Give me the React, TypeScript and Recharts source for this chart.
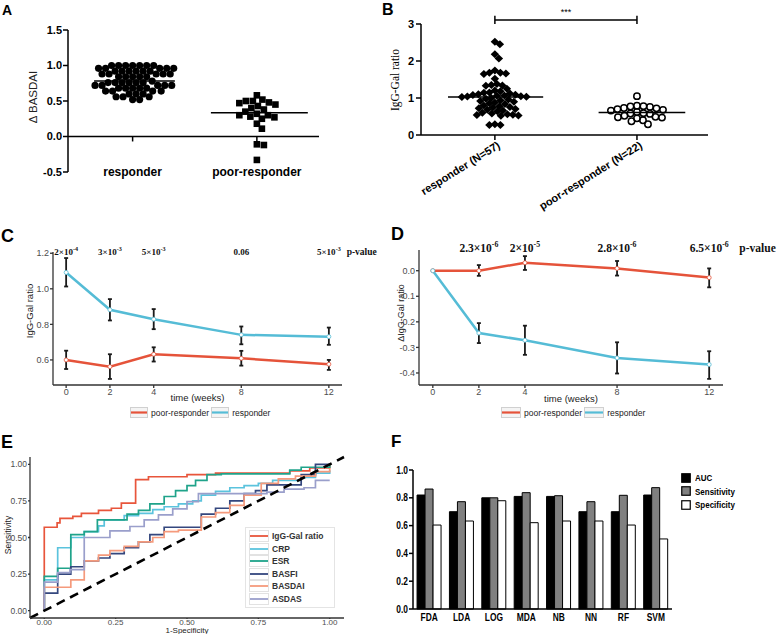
import React from 'react';
import {
  ScatterChart, Scatter, LineChart, Line, BarChart, Bar, XAxis, YAxis,
  ReferenceLine, ReferenceDot, ErrorBar, Legend,
} from 'recharts';

const SANS = '"Liberation Sans", Arial, sans-serif';
const SERIF = '"Liberation Serif", "Times New Roman", serif';

// ---------- A: delta BASDAI ----------
const aGroups = ['responder', 'poor-responder'];
const aResponder = [
  1.0, 1.0, 1.0, 1.0, 1.0, 1.0, 1.0, 0.96, 0.96, 0.96, 0.96, 0.96,
  0.92, 0.92, 0.92, 0.92, 0.92, 0.92, 0.88, 0.88, 0.88, 0.88, 0.88,
  0.84, 0.84, 0.84, 0.84, 0.84, 0.78, 0.76, 0.76, 0.76, 0.76, 0.76, 0.76,
  0.72, 0.72, 0.72, 0.72, 0.72, 0.68, 0.68, 0.68, 0.68, 0.68,
  0.64, 0.64, 0.64, 0.64, 0.6, 0.6, 0.6, 0.56, 0.56, 0.56, 0.52, 0.52,
];
const aPoor = [
  0.58, 0.52, 0.5, 0.5, 0.48, 0.47, 0.45, 0.43, 0.4, 0.38, 0.35,
  0.32, 0.3, 0.3, 0.28, 0.27, 0.25, 0.18, 0.11, -0.11, -0.12, -0.33,
];
const aTicks = [-0.5, 0, 0.5, 1.0, 1.5];

// ---------- B: IgG-Gal ratio by group ----------
const bGroups = ['responder (N=57)', 'poor-responder (N=22)'];
const bResponder = [
  2.52, 2.45, 2.18, 2.07, 1.74, 1.68, 1.68, 1.66, 1.65, 1.52, 1.38, 1.35, 1.34, 1.33,
  1.25, 1.2, 1.18, 1.15, 1.14, 1.12, 1.1, 1.09, 1.08, 1.07, 1.06, 1.05, 1.04, 1.035,
  1.03,
  1.0, 0.98, 0.96, 0.94, 0.92, 0.9, 0.88, 0.86, 0.84, 0.8, 0.78, 0.76, 0.74, 0.72,
  0.7, 0.68, 0.66, 0.64, 0.6, 0.58, 0.56, 0.55, 0.54, 0.53, 0.52, 0.29, 0.27, 0.27,
];
const bPoor = [
  1.05, 0.79, 0.78, 0.77, 0.76, 0.73, 0.72, 0.7, 0.68, 0.66, 0.62,
  0.59, 0.58, 0.57, 0.52, 0.49, 0.48, 0.47, 0.45, 0.4, 0.37, 0.29,
];
const bTicks = [0, 1, 2, 3];

// ---------- C / D: time course ----------
const weeks = [0, 2, 4, 8, 12];
const seriesNames = ['poor-responder', 'responder'];
const RED = '#e5533a';
const BLUE = '#55bcd6';

const cPoor = [0.6, 0.562, 0.632, 0.609, 0.576];
const cPoorLo = [0.549, 0.493, 0.591, 0.568, 0.544];
const cPoorHi = [0.652, 0.632, 0.671, 0.651, 0.6];
const cResp = [1.092, 0.882, 0.829, 0.741, 0.731];
const cRespLo = [1.013, 0.822, 0.773, 0.688, 0.685];
const cRespHi = [1.173, 0.942, 0.886, 0.788, 0.782];
const cPvalues = [['2×10', '-4'], ['3×10', '-3'], ['5×10', '-3'], ['0.06', ''], ['5×10', '-3']];

const dPoor = [0, 0, 0.031, 0.009, -0.027];
const dPoorLo = [null, -0.02, 0.003, -0.019, -0.065];
const dPoorHi = [null, 0.022, 0.057, 0.038, 0.009];
const dResp = [0, -0.244, -0.272, -0.341, -0.367];
const dRespLo = [null, -0.283, -0.329, -0.402, -0.423];
const dRespHi = [null, -0.205, -0.215, -0.28, -0.315];
const dPvalues = [['2.3×10', '-6'], ['2×10', '-5'], ['2.8×10', '-6'], ['6.5×10', '-6']];
const dPweeks = [2, 4, 8, 12];

// ---------- E: ROC ----------
const rocNames = ['IgG-Gal ratio', 'CRP', 'ESR', 'BASFI', 'BASDAI', 'ASDAS'];
const rocColors = ['#e8553b', '#5bc3dd', '#1fa38a', '#34477e', '#f59a7c', '#9a9fcb'];
const rocFpr = [
  [0, 0, 0.045, 0.055, 0.1, 0.13, 0.19, 0.235, 0.27, 0.32, 0.365, 0.5, 0.6, 0.86, 0.93, 1],
  [0, 0, 0.047, 0.093, 0.14, 0.19, 0.21, 0.28, 0.33, 0.38, 0.42, 0.47, 0.52, 0.55, 0.6, 0.65, 0.7, 0.75, 0.8, 0.9, 0.95, 1],
  [0, 0, 0.047, 0.093, 0.14, 0.186, 0.29, 0.33, 0.37, 0.42, 0.46, 0.5, 0.53, 0.57, 0.62, 0.86, 0.9, 1],
  [0, 0, 0.047, 0.093, 0.14, 0.19, 0.23, 0.28, 0.33, 0.37, 0.42, 0.55, 0.6, 0.65, 0.7, 0.74, 0.78, 0.9, 0.95, 1],
  [0, 0, 0.093, 0.14, 0.19, 0.23, 0.28, 0.33, 0.38, 0.42, 0.47, 0.55, 0.6, 0.65, 0.7, 0.76, 0.82, 0.88, 0.95, 1],
  [0, 0, 0.047, 0.09, 0.14, 0.23, 0.3, 0.35, 0.4, 0.45, 0.5, 0.54, 0.78, 0.84, 0.91, 0.95, 1],
];
const rocTpr = [
  [0, 0.57, 0.6, 0.63, 0.645, 0.665, 0.685, 0.7, 0.735, 0.895, 0.915, 0.93, 0.94, 0.955, 0.975, 1],
  [0, 0.21, 0.43, 0.5, 0.54, 0.58, 0.62, 0.65, 0.665, 0.69, 0.71, 0.73, 0.75, 0.79, 0.815, 0.84, 0.855, 0.87, 0.89, 0.91, 0.94, 0.96],
  [0, 0.235, 0.29, 0.52, 0.54, 0.62, 0.66, 0.685, 0.73, 0.78, 0.82, 0.855, 0.89, 0.93, 0.935, 0.96, 0.98, 1],
  [0, 0.12, 0.25, 0.3, 0.34, 0.36, 0.39, 0.43, 0.47, 0.52, 0.57, 0.66, 0.7, 0.75, 0.8, 0.82, 0.86, 0.93, 1, 1],
  [0, 0.16, 0.21, 0.34, 0.38, 0.41, 0.44, 0.47, 0.5, 0.54, 0.55, 0.64, 0.67, 0.72, 0.79, 0.87, 0.9, 0.92, 0.95, 0.97],
  [0, 0.195, 0.26, 0.28, 0.5, 0.545, 0.575, 0.62, 0.655, 0.695, 0.745, 0.8, 0.81, 0.83, 0.84, 0.89, 0.89],
];
const rocTicks = [0, 0.25, 0.5, 0.75, 1];

// ---------- F: classifiers ----------
const fModels = ['FDA', 'LDA', 'LOG', 'MDA', 'NB', 'NN', 'RF', 'SVM'];
const fAUC = [0.82, 0.7, 0.8, 0.81, 0.81, 0.7, 0.7, 0.82];
const fSens = [0.863, 0.772, 0.8, 0.837, 0.815, 0.772, 0.818, 0.873];
const fSpec = [0.604, 0.633, 0.779, 0.621, 0.633, 0.633, 0.604, 0.504];
const fNames = ['AUC', 'Sensitivity', 'Specificity'];
const fColors = ['#000000', '#808080', '#ffffff'];
const fTicks = [0, 0.2, 0.4, 0.6, 0.8, 1.0];

// ---------- helpers ----------
const median = (v: number[]) => {
  const s = [...v].sort((a, b) => a - b);
  const m = s.length >> 1;
  return s.length % 2 ? s[m] : (s[m - 1] + s[m]) / 2;
};

// simple beeswarm: greedy placement in pixel space, returns points in data units
function swarm(values: number[], center: number, pxX: number, pxY: number, minDist: number) {
  const order = values.map((_, i) => i).sort((a, b) => values[b] - values[a]);
  const placed: { x: number; y: number }[] = [];
  const out: { x: number; y: number }[] = new Array(values.length);
  for (const i of order) {
    const py = values[i] * pxY;
    let off = 0;
    for (let k = 0; k < 400; k++) {
      const cand = k === 0 ? 0 : (k % 2 ? 1 : -1) * Math.ceil(k / 2) * 0.5;
      if (placed.every((p) => Math.hypot(p.x - cand, p.y - py) >= minDist)) { off = cand; break; }
    }
    placed.push({ x: off, y: py });
    out[i] = { x: center + off / pxX, y: values[i] };
  }
  return out;
}

const vTitle = (text: string, x: number, y: number, size: number, extra: any = {}) => ({
  content: () => (
    <text x={x} y={y} transform={`rotate(-90 ${x} ${y})`} textAnchor="middle" dominantBaseline="central"
      fontSize={size} fontFamily={SANS} fill="#222" {...extra}>{text}</text>
  ),
});

const pShape = (main: string, exp: string, size: number, dyShift = 0) => (p: any) => (
  <text x={p.cx} y={p.cy + dyShift} textAnchor="middle" dominantBaseline="central" fontFamily={SERIF}
    fontWeight="bold" fontSize={size} fill="#111">
    {main}
    {exp ? <tspan dy={-size * 0.38} fontSize={size * 0.68}>{exp}</tspan> : null}
  </text>
);

const circleShape = (p: any) => <circle cx={p.cx} cy={p.cy} r={3.6} fill="#000" />;
const squareShape = (p: any) => <rect x={p.cx - 3.3} y={p.cy - 3.3} width={6.6} height={6.6} fill="#000" />;
const diamondShape = (p: any) => (
  <polygon points={`${p.cx},${p.cy - 4} ${p.cx + 4.2},${p.cy} ${p.cx},${p.cy + 4} ${p.cx - 4.2},${p.cy}`} fill="#000" />
);
const ringShape = (p: any) => <circle cx={p.cx} cy={p.cy} r={3.2} fill="none" stroke="#000" strokeWidth={1.5} />;

const blackAxis = { stroke: '#000', strokeWidth: 1.5 };
const grayAxis = { stroke: '#333', strokeWidth: 1.3 };
const boldTick = { fill: '#000', fontSize: 11, fontWeight: 'bold', fontFamily: SANS };
const grayTick = { fill: '#4d4d4d', fontSize: 9, fontFamily: SANS };

const aRespPts = swarm(aResponder, 0, 124, 71, 6.6);
const aPoorPts = swarm(aPoor, 1, 124, 71, 6.8);
const bRespPts = swarm(bResponder, 0, 142, 37, 5.5);
const bPoorPts = swarm(bPoor, 1, 142, 37, 6.2);

const toErr = (v: number[], lo: (number | null)[], hi: (number | null)[], i: number) =>
  lo[i] == null || hi[i] == null ? null : [v[i] - (lo[i] as number), (hi[i] as number) - v[i]];

const cData = weeks.map((w, i) => ({
  week: w, poor: cPoor[i], poorErr: toErr(cPoor, cPoorLo, cPoorHi, i),
  resp: cResp[i], respErr: toErr(cResp, cRespLo, cRespHi, i),
}));
const dData = weeks.map((w, i) => ({
  week: w, poor: dPoor[i], poorErr: toErr(dPoor, dPoorLo, dPoorHi, i),
  resp: dResp[i], respErr: toErr(dResp, dRespLo, dRespHi, i),
}));
const rocData = rocNames.map((_, s) => rocFpr[s].map((f, i) => ({ fpr: f, tpr: rocTpr[s][i] })));
const fData = fModels.map((m, i) => ({ model: m, auc: fAUC[i], sens: fSens[i], spec: fSpec[i] }));

const ATick = (p: any) => (
  <text x={p.x} y={p.y} dy={4} textAnchor="middle" fontSize={12} fontWeight="bold" fontFamily={SANS} fill="#000">
    {aGroups[p.payload.value]}
  </text>
);
const BTick = (p: any) => (
  <text transform={`translate(${p.x + 4},${p.y + 2}) rotate(-32)`} textAnchor="end" dy="0.35em"
    fontSize={11} fontWeight="bold" fontFamily={SANS} fill="#000">
    {bGroups[p.payload.value]}
  </text>
);
// condensed bold labels for the bar panel
const FXTick = (p: any) => (
  <text transform={`translate(${p.x},${p.y}) scale(0.84,1)`} dy="0.71em" textAnchor="middle"
    fontSize={10} fontWeight="bold" fontFamily={SANS} fill="#000">{p.payload.value}</text>
);
const FYTick = (p: any) => (
  <text transform={`translate(${p.x},${p.y}) scale(0.84,1)`} dy="0.35em" textAnchor="end"
    fontSize={10} fontWeight="bold" fontFamily={SANS} fill="#000">{Number(p.payload.value).toFixed(1)}</text>
);

const TimeLegend = ({ keyW }: { keyW: number }) => (
  <div style={{ display: 'flex', alignItems: 'center', fontFamily: SANS, fontSize: 8.5, color: '#222', whiteSpace: 'nowrap' }}>
    {seriesNames.map((n, i) => (
      <span key={n} style={{ display: 'flex', alignItems: 'center', marginRight: 2 }}>
        <svg width={keyW} height={11} style={{ display: 'block' }}>
          <rect x={0.5} y={0.5} width={keyW - 1} height={10} fill="#f4f4f4" stroke="#d0d0d0" />
          <line x1={1} x2={keyW - 1} y1={5.5} y2={5.5} stroke={i ? BLUE : RED} strokeWidth={2.2} />
        </svg>
        <span style={{ marginLeft: 3 }}>{n}</span>
      </span>
    ))}
  </div>
);

const RocLegend = () => (
  <div style={{ border: '1px solid #e4e4e4', padding: '2px 3px', fontFamily: SANS, fontSize: 8.5, fontWeight: 'bold', color: '#333', background: '#fff' }}>
    {rocNames.map((n, i) => (
      <div key={n} style={{ display: 'flex', alignItems: 'center', height: 12.5 }}>
        <svg width={20} height={12} style={{ display: 'block' }}>
          <rect x={0.5} y={0.5} width={19} height={11} fill="#fff" stroke="#e2e2e2" />
          <line x1={1} x2={19} y1={6} y2={6} stroke={rocColors[i]} strokeWidth={1.8} />
        </svg>
        <span style={{ marginLeft: 3 }}>{n}</span>
      </div>
    ))}
  </div>
);

const BarLegend = () => (
  <div style={{ fontFamily: SANS, fontSize: 9.5, fontWeight: 'bold', color: '#000' }}>
    {fNames.map((n, i) => (
      <div key={n} style={{ display: 'flex', alignItems: 'center', height: 13.5 }}>
        <svg width={10} height={10} style={{ display: 'block' }}>
          <rect x={0.75} y={0.75} width={8.5} height={8.5} fill={fColors[i]} stroke="#000" strokeWidth={1.2} />
        </svg>
        <span style={{ marginLeft: 4, display: 'inline-block', transform: 'scaleX(0.84)', transformOrigin: 'left center' }}>{n}</span>
      </div>
    ))}
  </div>
);

const abs = (left: number, top: number): React.CSSProperties => ({ position: 'absolute', left, top });

export default function App() {
  return (
    <div style={{ position: 'absolute', left: 0, top: 0, width: 778, height: 634, background: '#fff', overflow: 'hidden', fontFamily: SANS }}>
      {/* A */}
      <div style={abs(0, 0)}>
        <ScatterChart width={330} height={190} margin={{ top: 30, right: 11, bottom: 0, left: 0 }}>
          <XAxis type="number" dataKey="x" domain={[-0.52, 1.5]} ticks={[0, 1]} height={18}
            axisLine={false} tickLine={false} tickSize={0} tickMargin={0} tick={<ATick />} allowDataOverflow />
          <YAxis type="number" dataKey="y" domain={[-0.5, 1.5]} ticks={aTicks} width={68}
            tickFormatter={(v: number) => v.toFixed(1)} axisLine={blackAxis} tickLine={blackAxis}
            tickSize={5} tickMargin={1} tick={boldTick} label={vTitle('Δ BASDAI', 33, 97, 11.5)} />
          <ReferenceLine y={0} stroke="#000" strokeWidth={1.5} />
          {[0, 1].map((g) => (
            <ReferenceLine key={g} segment={[{ x: g, y: 0 }, { x: g, y: -0.07 }]} stroke="#000" strokeWidth={1.5} />
          ))}
          <Scatter data={aRespPts} shape={circleShape} isAnimationActive={false} />
          <Scatter data={aPoorPts} shape={squareShape} isAnimationActive={false} />
          <ReferenceLine segment={[{ x: -0.31, y: median(aResponder) }, { x: 0.34, y: median(aResponder) }]} stroke="#000" strokeWidth={1.5} />
          <ReferenceLine segment={[{ x: 0.63, y: median(aPoor) }, { x: 1.41, y: median(aPoor) }]} stroke="#000" strokeWidth={1.5} />
        </ScatterChart>
      </div>

      {/* B */}
      <div style={abs(380, 0)}>
        <ScatterChart width={340} height={215} margin={{ top: 24, right: 12, bottom: 0, left: 0 }}>
          <XAxis type="number" dataKey="x" domain={[-0.52, 1.5]} ticks={[0, 1]} height={80}
            axisLine={blackAxis} tickLine={blackAxis} tickSize={5} tickMargin={2} tick={<BTick />} allowDataOverflow />
          <YAxis type="number" dataKey="y" domain={[0, 3]} ticks={bTicks} width={41}
            axisLine={blackAxis} tickLine={blackAxis} tickSize={5} tickMargin={2} tick={boldTick}
            label={vTitle('IgG-Gal ratio', 15, 80, 12.5, { fontFamily: SERIF, fill: '#000', textLength: 62, lengthAdjust: 'spacingAndGlyphs' })} />
          <Scatter data={bRespPts} shape={diamondShape} isAnimationActive={false} />
          <Scatter data={bPoorPts} shape={ringShape} isAnimationActive={false} />
          <ReferenceLine segment={[{ x: -0.33, y: median(bResponder) }, { x: 0.34, y: median(bResponder) }]} stroke="#000" strokeWidth={1.5} />
          <ReferenceLine segment={[{ x: 0.73, y: median(bPoor) }, { x: 1.34, y: median(bPoor) }]} stroke="#000" strokeWidth={1.5} />
          <ReferenceLine segment={[{ x: 0, y: 3.11 }, { x: 1, y: 3.11 }]} stroke="#000" strokeWidth={1.5} ifOverflow="visible" />
          <ReferenceLine segment={[{ x: 0, y: 3.0 }, { x: 0, y: 3.22 }]} stroke="#000" strokeWidth={1.5} ifOverflow="visible" />
          <ReferenceLine segment={[{ x: 1, y: 3.0 }, { x: 1, y: 3.22 }]} stroke="#000" strokeWidth={1.5} ifOverflow="visible" />
          <ReferenceDot x={0.5} y={3.11} ifOverflow="visible"
            shape={(p: any) => <text x={p.cx} y={p.cy - 5} textAnchor="middle" fontSize={9} fontFamily={SANS} fill="#000">***</text>} />
        </ScatterChart>
      </div>

      {/* C */}
      <div style={abs(0, 240)}>
        <LineChart width={390} height={185} data={cData} margin={{ top: 12, right: 48, bottom: 0, left: 0 }}>
          <XAxis type="number" dataKey="week" domain={[-0.6, 12.6]} ticks={weeks} height={40}
            axisLine={grayAxis} tickLine={grayAxis} tickSize={3} tickMargin={1} tick={grayTick}
            label={{ value: 'time (weeks)', position: 'insideBottom', offset: 24, fontSize: 9.5, fill: '#222', fontFamily: SANS }} />
          <YAxis type="number" domain={[0.459, 1.207]} ticks={[0.6, 0.8, 1.0, 1.2]} width={53}
            tickFormatter={(v: number) => v.toFixed(1)} axisLine={grayAxis} tickLine={grayAxis}
            tickSize={3} tickMargin={1} tick={grayTick} label={vTitle('IgG-Gal ratio', 29, 71, 9.5)} />
          <Line dataKey="poor" name={seriesNames[0]} stroke={RED} strokeWidth={2.5} isAnimationActive={false}
            dot={{ r: 2, fill: '#fff', stroke: RED, strokeWidth: 0.8 }}>
            <ErrorBar dataKey="poorErr" width={2} strokeWidth={1.8} stroke="#1a1a1a" direction="y" />
          </Line>
          <Line dataKey="resp" name={seriesNames[1]} stroke={BLUE} strokeWidth={2.5} isAnimationActive={false}
            dot={{ r: 2, fill: '#fff', stroke: BLUE, strokeWidth: 0.8 }}>
            <ErrorBar dataKey="respErr" width={2} strokeWidth={1.8} stroke="#1a1a1a" direction="y" />
          </Line>
          {weeks.map((w, i) => (
            <ReferenceDot key={w} x={w} y={1.207} ifOverflow="visible" shape={pShape(cPvalues[i][0], cPvalues[i][1], 9)} />
          ))}
          <ReferenceDot x={13.5} y={1.207} ifOverflow="visible" shape={pShape('p-value', '', 9.5)} />
          <Legend layout="horizontal" align="center" verticalAlign="middle"
            wrapperStyle={{ position: 'absolute', left: 130, top: 167, width: 170 }}
            content={() => <TimeLegend keyW={18} />} />
        </LineChart>
      </div>

      {/* D */}
      <div style={abs(380, 240)}>
        <LineChart width={398} height={185} data={dData} margin={{ top: 10, right: 55, bottom: 0, left: 0 }}>
          <XAxis type="number" dataKey="week" domain={[-0.6, 12.6]} ticks={weeks} height={40}
            axisLine={grayAxis} tickLine={grayAxis} tickSize={3} tickMargin={1} tick={grayTick}
            label={{ value: 'time (weeks)', position: 'insideBottom', offset: 23, fontSize: 9.5, fill: '#222', fontFamily: SANS }} />
          <YAxis type="number" domain={[-0.447, 0.081]} ticks={[-0.4, -0.3, -0.2, -0.1, 0]} width={39}
            tickFormatter={(v: number) => v.toFixed(1)} axisLine={grayAxis} tickLine={grayAxis}
            tickSize={3} tickMargin={1} tick={grayTick} label={vTitle('ΔIgG-Gal ratio', 21, 73, 9)} />
          <Line dataKey="poor" name={seriesNames[0]} stroke={RED} strokeWidth={2.5} isAnimationActive={false}
            dot={{ r: 2, fill: '#fff', stroke: RED, strokeWidth: 0.8 }}>
            <ErrorBar dataKey="poorErr" width={2} strokeWidth={1.8} stroke="#1a1a1a" direction="y" />
          </Line>
          <Line dataKey="resp" name={seriesNames[1]} stroke={BLUE} strokeWidth={2.5} isAnimationActive={false}
            dot={{ r: 2, fill: '#fff', stroke: BLUE, strokeWidth: 0.8 }}>
            <ErrorBar dataKey="respErr" width={2} strokeWidth={1.8} stroke="#1a1a1a" direction="y" />
          </Line>
          {dPweeks.map((w, i) => (
            <ReferenceDot key={w} x={w} y={0.081} ifOverflow="visible" shape={pShape(dPvalues[i][0], dPvalues[i][1], 11.5, -2)} />
          ))}
          <ReferenceDot x={14.1} y={0.081} ifOverflow="visible" shape={pShape('p-value', '', 11.5, -2)} />
          <Legend layout="horizontal" align="center" verticalAlign="middle"
            wrapperStyle={{ position: 'absolute', left: 121, top: 167, width: 170 }}
            content={() => <TimeLegend keyW={20} />} />
        </LineChart>
      </div>

      {/* E */}
      <div style={abs(0, 445)}>
        <LineChart width={380} height={189} margin={{ top: 12, right: 36, bottom: 0, left: 0 }}>
          <XAxis type="number" dataKey="fpr" domain={[-0.05, 1.05]} ticks={rocTicks} height={16}
            tickFormatter={(v: number) => v.toFixed(2)} axisLine={grayAxis} tickLine={grayAxis}
            tickSize={1} tickMargin={0} tick={{ ...grayTick, fontSize: 8 }}
            label={{ value: '1-Specificity', position: 'insideBottom', offset: 1, fontSize: 8, fill: '#222', fontFamily: SANS }} />
          <YAxis type="number" domain={[-0.05, 1.05]} ticks={rocTicks} width={30}
            tickFormatter={(v: number) => v.toFixed(2)} axisLine={grayAxis} tickLine={grayAxis}
            tickSize={2} tickMargin={1} tick={{ ...grayTick, fontSize: 8.5 }} label={vTitle('Sensitivity', 8, 90, 8.5)} />
          {rocNames.map((n, i) => (
            <Line key={n} data={rocData[i]} dataKey="tpr" name={n} type="stepAfter" stroke={rocColors[i]}
              strokeWidth={1.7} dot={false} isAnimationActive={false} />
          ))}
          <ReferenceLine segment={[{ x: -0.05, y: -0.05 }, { x: 1.05, y: 1.05 }]} stroke="#000" strokeWidth={2.6} strokeDasharray="9 6" />
          <Legend layout="vertical" align="center" verticalAlign="middle"
            wrapperStyle={{ position: 'absolute', left: 245, top: 82, width: 90 }}
            content={() => <RocLegend />} />
        </LineChart>
      </div>

      {/* F */}
      <div style={abs(380, 455)}>
        <BarChart width={398} height={179} data={fData} margin={{ top: 15, right: 106, bottom: 0, left: 0 }}
          barGap={0} barCategoryGap="12.5%">
          <XAxis dataKey="model" height={25} axisLine={blackAxis} tickLine={false} tickSize={4} tickMargin={1}
            interval={0} tick={<FXTick />} />
          <YAxis type="number" domain={[0, 1]} ticks={fTicks} width={33} interval={0}
            axisLine={blackAxis} tickLine={blackAxis} tickSize={4} tickMargin={1} tick={<FYTick />} />
          <Bar dataKey="auc" name={fNames[0]} fill={fColors[0]} stroke="#000" strokeWidth={1} isAnimationActive={false} />
          <Bar dataKey="sens" name={fNames[1]} fill={fColors[1]} stroke="#000" strokeWidth={1} isAnimationActive={false} />
          <Bar dataKey="spec" name={fNames[2]} fill={fColors[2]} stroke="#000" strokeWidth={1} isAnimationActive={false} />
          <Legend layout="vertical" align="center" verticalAlign="middle"
            wrapperStyle={{ position: 'absolute', left: 301, top: 16, width: 90 }}
            content={() => <BarLegend />} />
        </BarChart>
      </div>

      {/* panel letters */}
      <svg width={778} height={634} style={{ position: 'absolute', left: 0, top: 0, pointerEvents: 'none' }}>
        <g fontFamily={SANS} fontWeight="bold" fill="#000">
          <text x={2} y={15} fontSize={14}>A</text>
          <text x={382} y={15} fontSize={16}>B</text>
          <text x={1} y={242} fontSize={18}>C</text>
          <text x={391} y={240} fontSize={18}>D</text>
          <text x={1} y={448} fontSize={18}>E</text>
          <text x={391} y={447} fontSize={17}>F</text>
        </g>
      </svg>
    </div>
  );
}
